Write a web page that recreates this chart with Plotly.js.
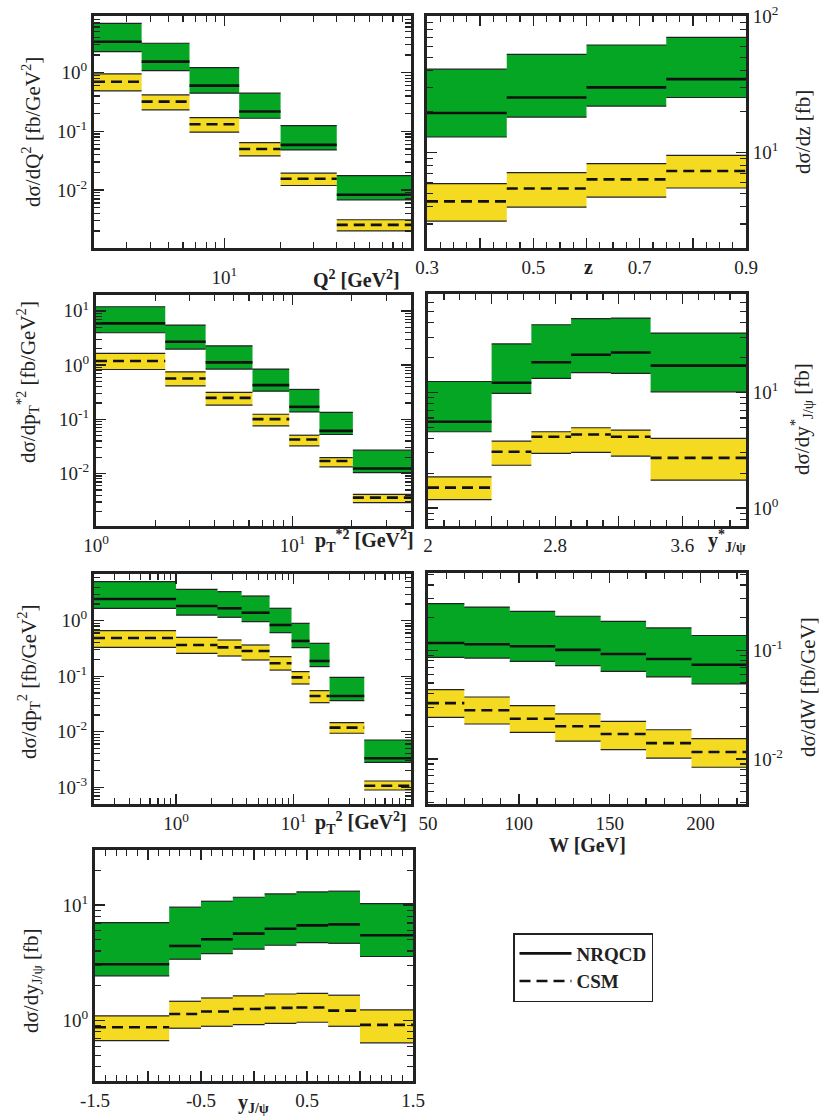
<!DOCTYPE html>
<html><head><meta charset="utf-8">
<script src="https://cdn.plot.ly/plotly-3.0.1.min.js"></script>
<style>html,body{margin:0;padding:0;background:#fff}#chart{width:820px;height:1119px}</style>
</head><body><div id="chart"></div>
<script>
// ---------- Panel 1: dσ/dQ² ----------
const q2Edges = [2, 3.6, 6.5, 12, 20, 40, 100];
const q2NrqcdCentral = [3.37, 1.54, 0.60, 0.217, 0.0587, 0.00826];
const q2NrqcdLow     = [2.28, 1.08, 0.446, 0.167, 0.0482, 0.00678];
const q2NrqcdHigh    = [6.94, 3.17, 1.22, 0.446, 0.125, 0.0176];
const q2CsmCentral   = [0.70, 0.32, 0.132, 0.050, 0.0155, 0.00254];
const q2CsmLow       = [0.49, 0.232, 0.0966, 0.0381, 0.0119, 0.00201];
const q2CsmHigh      = [0.95, 0.417, 0.171, 0.0643, 0.0193, 0.0031];

// ---------- Panel 2: dσ/dz ----------
const zEdges = [0.3, 0.45, 0.6, 0.75, 0.9];
const zNrqcdCentral = [19.5, 25.3, 30.0, 34.5];
const zNrqcdLow     = [13.0, 18.2, 21.9, 25.3];
const zNrqcdHigh    = [40.8, 52.4, 61.3, 69.7];
const zCsmCentral   = [4.39, 5.45, 6.36, 7.33];
const zCsmLow       = [3.15, 3.99, 4.72, 5.5];
const zCsmHigh      = [5.93, 7.13, 8.3, 9.55];

// ---------- Panel 3: dσ/dp*T² ----------
const ptsEdges = [1, 2.25, 3.61, 6.25, 9.61, 13.69, 20.25, 40];
const ptsNrqcdCentral = [5.88, 2.70, 1.12, 0.427, 0.170, 0.0614, 0.0124];
const ptsNrqcdLow     = [3.95, 1.97, 0.844, 0.331, 0.137, 0.0525, 0.0104];
const ptsNrqcdHigh    = [11.9, 5.47, 2.27, 0.844, 0.356, 0.134, 0.027];
const ptsCsmCentral   = [1.19, 0.567, 0.249, 0.101, 0.0425, 0.0171, 0.0036];
const ptsCsmLow       = [0.83, 0.415, 0.183, 0.076, 0.0324, 0.0133, 0.00292];
const ptsCsmHigh      = [1.64, 0.753, 0.313, 0.124, 0.051, 0.0197, 0.00415];

// ---------- Panel 4: dσ/dy*J/ψ ----------
const ysEdges = [2.0, 2.4, 2.65, 2.9, 3.15, 3.4, 4.0];
const ysNrqcdCentral = [5.57, 12.1, 18.2, 21.1, 22.1, 17.0];
const ysNrqcdLow     = [4.56, 9.8, 13.2, 14.8, 14.6, 10.1];
const ysNrqcdHigh    = [12.4, 26.2, 38.4, 43.3, 43.8, 32.5];
const ysCsmCentral   = [1.50, 3.06, 4.13, 4.32, 4.13, 2.71];
const ysCsmLow       = [1.18, 2.34, 2.96, 3.02, 2.81, 1.74];
const ysCsmHigh      = [1.86, 3.78, 4.56, 4.94, 4.71, 3.99];

// ---------- Panel 5: dσ/dpT² ----------
const ptEdges = [0.2, 1, 2.25, 3.61, 6.25, 9.61, 13.69, 20.25, 40, 100];
const ptNrqcdCentral = [2.45, 1.84, 1.67, 1.39, 0.836, 0.431, 0.188, 0.044, 0.00333];
const ptNrqcdLow     = [1.67, 1.26, 1.15, 0.96, 0.608, 0.327, 0.149, 0.0363, 0.00282];
const ptNrqcdHigh    = [5.03, 3.66, 3.33, 2.78, 1.67, 0.895, 0.391, 0.0955, 0.00711];
const ptCsmCentral   = [0.488, 0.365, 0.331, 0.284, 0.171, 0.0955, 0.044, 0.0119, 0.00107];
const ptCsmLow       = [0.331, 0.258, 0.231, 0.196, 0.129, 0.0725, 0.0334, 0.0094, 0.000896];
const ptCsmHigh      = [0.66, 0.501, 0.449, 0.365, 0.225, 0.121, 0.055, 0.0146, 0.0013];

// ---------- Panel 6: dσ/dW ----------
const wEdges = [50, 70, 95, 120, 145, 170, 195, 225];
const wNrqcdCentral = [0.117, 0.114, 0.109, 0.101, 0.0925, 0.0832, 0.0738];
const wNrqcdLow     = [0.0863, 0.085, 0.0792, 0.0723, 0.0641, 0.0569, 0.049];
const wNrqcdHigh    = [0.269, 0.25, 0.228, 0.206, 0.185, 0.161, 0.137];
const wCsmCentral   = [0.0327, 0.0281, 0.0235, 0.020, 0.017, 0.014, 0.0116];
const wCsmLow       = [0.0242, 0.021, 0.0176, 0.0146, 0.0122, 0.0102, 0.0084];
const wCsmHigh      = [0.0435, 0.0372, 0.031, 0.026, 0.0222, 0.0186, 0.0154];

// ---------- Panel 7: dσ/dyJ/ψ ----------
const yEdges = [-1.5, -0.8, -0.5, -0.2, 0.1, 0.4, 0.7, 1.0, 1.5];
const yNrqcdCentral = [3.08, 4.43, 5.06, 5.66, 6.25, 6.68, 6.81, 5.48];
const yNrqcdLow     = [2.44, 3.4, 3.8, 4.15, 4.49, 4.73, 4.67, 3.59];
const yNrqcdHigh    = [7.05, 9.6, 10.8, 11.7, 12.5, 13.0, 13.2, 10.3];
const yCsmCentral   = [0.876, 1.14, 1.2, 1.26, 1.29, 1.30, 1.22, 0.918];
const yCsmLow       = [0.672, 0.859, 0.893, 0.924, 0.948, 0.968, 0.893, 0.642];
const yCsmHigh      = [1.10, 1.47, 1.57, 1.64, 1.70, 1.72, 1.66, 1.24];

// ---------- tick labels ----------
const q2XTickVals = [10];            const q2XTickText = ['10<sup>1</sup>'];
const q2YTickVals = [0.01, 0.1, 1];  const q2YTickText = ['10<sup>-2</sup>', '10<sup>-1</sup>', '10<sup>0</sup>'];
const zXTickVals = [0.3, 0.4, 0.5, 0.6, 0.7, 0.8, 0.9]; const zXTickText = ['0.3', '', '0.5', '', '0.7', '', '0.9'];
const zYTickVals = [10, 100];        const zYTickText = ['10<sup>1</sup>', '10<sup>2</sup>'];
const ptsXTickVals = [1, 10];        const ptsXTickText = ['10<sup>0</sup>', '10<sup>1</sup>'];
const ptsYTickVals = [0.01, 0.1, 1, 10]; const ptsYTickText = ['10<sup>-2</sup>', '10<sup>-1</sup>', '10<sup>0</sup>', '10<sup>1</sup>'];
const ysXTickVals = [2.0, 2.4, 2.8, 3.2, 3.6, 4.0]; const ysXTickText = ['2', '', '2.8', '', '3.6', ''];
const ysYTickVals = [1, 10];         const ysYTickText = ['10<sup>0</sup>', '10<sup>1</sup>'];
const ptXTickVals = [1, 10];         const ptXTickText = ['10<sup>0</sup>', '10<sup>1</sup>'];
const ptYTickVals = [0.001, 0.01, 0.1, 1]; const ptYTickText = ['10<sup>-3</sup>', '10<sup>-2</sup>', '10<sup>-1</sup>', '10<sup>0</sup>'];
const wXTickVals = [50, 100, 150, 200]; const wXTickText = ['50', '100', '150', '200'];
const wYTickVals = [0.01, 0.1];      const wYTickText = ['10<sup>-2</sup>', '10<sup>-1</sup>'];
const yXTickVals = [-1.5, -1.0, -0.5, 0, 0.5, 1.0, 1.5]; const yXTickText = ['-1.5', '', '-0.5', '', '0.5', '', '1.5'];
const yYTickVals = [1, 10];          const yYTickText = ['10<sup>0</sup>', '10<sup>1</sup>'];

const legendNames = ['NRQCD', 'CSM'];

// ---------- styling ----------
const FONT = '"Liberation Serif", "Times New Roman", serif';
const INK = '#222';
const GREEN = '#05a623';
const YELLOW = '#f5da22';
const WPX = 820, HPX = 1119;

function bandTraces(ax, edges, lo, hi, color) {
  const px = [], py = [], ex = [], ey = [];
  for (let i = 0; i < lo.length; i++) {
    const a = edges[i], b = edges[i + 1];
    px.push(a, b, b, a, a, null); py.push(lo[i], lo[i], hi[i], hi[i], lo[i], null);
    ex.push(a, b, null, a, b, null); ey.push(lo[i], lo[i], null, hi[i], hi[i], null);
  }
  return [
    {type: 'scatter', mode: 'lines', x: px, y: py, xaxis: ax.x, yaxis: ax.y, fill: 'toself',
     fillcolor: color, line: {width: 0, color: color}, showlegend: false, hoverinfo: 'skip'},
    {type: 'scatter', mode: 'lines', x: ex, y: ey, xaxis: ax.x, yaxis: ax.y,
     line: {width: 1.2, color: INK}, showlegend: false, hoverinfo: 'skip'}
  ];
}
function centralTrace(ax, edges, c, dash, name, show) {
  const x = [], y = [];
  for (let i = 0; i < c.length; i++) { x.push(edges[i], edges[i + 1], null); y.push(c[i], c[i], null); }
  return {type: 'scatter', mode: 'lines', x: x, y: y, xaxis: ax.x, yaxis: ax.y,
          line: {width: 2.6, color: '#111', dash: dash}, name: name, showlegend: show, hoverinfo: 'skip'};
}

const panels = [
  {e: q2Edges, nc: q2NrqcdCentral, nl: q2NrqcdLow, nh: q2NrqcdHigh, cc: q2CsmCentral, cl: q2CsmLow, ch: q2CsmHigh},
  {e: zEdges, nc: zNrqcdCentral, nl: zNrqcdLow, nh: zNrqcdHigh, cc: zCsmCentral, cl: zCsmLow, ch: zCsmHigh},
  {e: ptsEdges, nc: ptsNrqcdCentral, nl: ptsNrqcdLow, nh: ptsNrqcdHigh, cc: ptsCsmCentral, cl: ptsCsmLow, ch: ptsCsmHigh},
  {e: ysEdges, nc: ysNrqcdCentral, nl: ysNrqcdLow, nh: ysNrqcdHigh, cc: ysCsmCentral, cl: ysCsmLow, ch: ysCsmHigh},
  {e: ptEdges, nc: ptNrqcdCentral, nl: ptNrqcdLow, nh: ptNrqcdHigh, cc: ptCsmCentral, cl: ptCsmLow, ch: ptCsmHigh},
  {e: wEdges, nc: wNrqcdCentral, nl: wNrqcdLow, nh: wNrqcdHigh, cc: wCsmCentral, cl: wCsmLow, ch: wCsmHigh},
  {e: yEdges, nc: yNrqcdCentral, nl: yNrqcdLow, nh: yNrqcdHigh, cc: yCsmCentral, cl: yCsmLow, ch: yCsmHigh}
];

const traces = [];
panels.forEach((p, i) => {
  const n = i + 1;
  const ax = {x: n === 1 ? 'x' : 'x' + n, y: n === 1 ? 'y' : 'y' + n};
  traces.push(...bandTraces(ax, p.e, p.cl, p.ch, YELLOW));
  traces.push(...bandTraces(ax, p.e, p.nl, p.nh, GREEN));
  traces.push(centralTrace(ax, p.e, p.cc, '11px,6px', legendNames[1], n === 1));
  traces.push(centralTrace(ax, p.e, p.nc, 'solid', legendNames[0], n === 1));
});

function logMinor(lo, hi) {
  const out = [];
  for (let k = Math.floor(Math.log10(lo)) - 1; k <= Math.ceil(Math.log10(hi)); k++) {
    for (let m = 2; m <= 9; m++) { const v = m * Math.pow(10, k); if (v >= lo * 0.999 && v <= hi * 1.001) out.push(v); }
  }
  return out;
}

function axisBase(extra) {
  return Object.assign({
    showline: true, linewidth: 3, linecolor: INK, mirror: 'allticks',
    ticks: 'inside', ticklen: 10, tickwidth: 1.4, tickcolor: INK,
    showgrid: false, zeroline: false, tickmode: 'array',
    tickfont: {family: FONT, size: 19, color: INK}, fixedrange: true
  }, extra);
}
function xdom(a, b) { return [a / WPX, b / WPX]; }
function ydom(top, bot) { return [1 - bot / HPX, 1 - top / HPX]; }
function minorArr(vals) { return {ticks: 'inside', ticklen: 6, tickwidth: 1.2, tickcolor: INK, tickmode: 'array', tickvals: vals, showgrid: false}; }
function minorLin(d, t0) { return {ticks: 'inside', ticklen: 6, tickwidth: 1.2, tickcolor: INK, tickmode: 'linear', dtick: d, tick0: t0, showgrid: false}; }

const layout = {
  width: WPX, height: HPX, margin: {l: 0, r: 0, t: 0, b: 0},
  paper_bgcolor: '#fff', plot_bgcolor: '#fff', font: {family: FONT, color: INK},
  showlegend: true,
  legend: {x: 513 / WPX, y: 1 - 933 / HPX, xanchor: 'left', yanchor: 'top', bgcolor: '#fff',
           bordercolor: INK, borderwidth: 1.5, font: {family: FONT, size: 19, color: INK, weight: 'bold'},
           itemwidth: 52, traceorder: 'reversed', tracegroupgap: 0},
  // Panel 1
  xaxis: axisBase({domain: xdom(94, 411), anchor: 'y', type: 'log', range: [Math.log10(2), 2],
    tickvals: q2XTickVals, ticktext: q2XTickText, minor: minorArr(logMinor(2, 100)), ticklabelstandoff: 10}),
  yaxis: axisBase({domain: ydom(16, 248), anchor: 'x', type: 'log', range: [-2.99, 0.966],
    tickvals: q2YTickVals, ticktext: q2YTickText, minor: minorArr(logMinor(0.001, 10))}),
  // Panel 2
  xaxis2: axisBase({domain: xdom(427, 746), anchor: 'y2', range: [0.3, 0.9],
    tickvals: zXTickVals, ticktext: zXTickText, minor: minorLin(0.025, 0.3)}),
  yaxis2: axisBase({domain: ydom(16, 248), anchor: 'x2', type: 'log', range: [Math.log10(2), 2], side: 'right',
    tickvals: zYTickVals, ticktext: zYTickText, minor: minorArr(logMinor(2, 100))}),
  // Panel 3
  xaxis3: axisBase({domain: xdom(96, 411), anchor: 'y3', type: 'log', range: [0, Math.log10(40)],
    tickvals: ptsXTickVals, ticktext: ptsXTickText, minor: minorArr(logMinor(1, 40))}),
  yaxis3: axisBase({domain: ydom(295, 526), anchor: 'x3', type: 'log', range: [-2.966, 1.292],
    tickvals: ptsYTickVals, ticktext: ptsYTickText, minor: minorArr(logMinor(0.001, 20))}),
  // Panel 4
  xaxis4: axisBase({domain: xdom(428, 746), anchor: 'y4', range: [2, 4],
    tickvals: ysXTickVals, ticktext: ysXTickText, minor: minorLin(0.1, 2)}),
  yaxis4: axisBase({domain: ydom(294, 526), anchor: 'x4', type: 'log', range: [-0.156, 1.85], side: 'right',
    tickvals: ysYTickVals, ticktext: ysYTickText, minor: minorArr(logMinor(0.7, 71))}),
  // Panel 5
  xaxis5: axisBase({domain: xdom(94, 411), anchor: 'y5', type: 'log', range: [Math.log10(0.2), 2],
    tickvals: ptXTickVals, ticktext: ptXTickText, minor: minorArr(logMinor(0.2, 100))}),
  yaxis5: axisBase({domain: ydom(574, 804), anchor: 'x5', type: 'log', range: [-3.3, 0.84],
    tickvals: ptYTickVals, ticktext: ptYTickText, minor: minorArr(logMinor(0.0005, 7))}),
  // Panel 6
  xaxis6: axisBase({domain: xdom(428, 746), anchor: 'y6', range: [50, 225],
    tickvals: wXTickVals, ticktext: wXTickText, minor: minorLin(10, 50)}),
  yaxis6: axisBase({domain: ydom(573, 804), anchor: 'x6', type: 'log', range: [-2.414, -0.288], side: 'right',
    tickvals: wYTickVals, ticktext: wYTickText, minor: minorArr(logMinor(0.0039, 0.51))}),
  // Panel 7
  xaxis7: axisBase({domain: xdom(95, 413), anchor: 'y7', range: [-1.5, 1.5],
    tickvals: yXTickVals, ticktext: yXTickText, minor: minorLin(0.1, -1.5)}),
  yaxis7: axisBase({domain: ydom(850, 1081), anchor: 'x7', type: 'log', range: [Math.log10(0.3), Math.log10(30)],
    tickvals: yYTickVals, ticktext: yYTickText, minor: minorArr(logMinor(0.3, 30))}),
  annotations: []
};

// axis titles as positioned text
const axisTitles = [
  ['dσ/dQ<sup>2</sup> [fb/GeV<sup>2</sup>]', 32, 132, -90, false],
  ['<b>Q<sup>2</sup> [GeV<sup>2</sup>]</b>', 356, 279, 0, true],
  ['dσ/dz [fb]', 803, 132, -90, false],
  ['<b>z</b>', 588, 267, 0, true],
  ['dσ/dp<sub>T</sub><sup>*2</sup> [fb/GeV<sup>2</sup>]', 28, 382, -90, false],
  ['<b>p<sub>T</sub><sup>*2</sup> [GeV<sup>2</sup>]</b>', 364, 541, 0, true],
  ['dσ/dy<sup>*</sup><sub>J/ψ</sub> [fb]', 801, 419, -90, false],
  ['<b>y<sup>*</sup><sub>J/ψ</sub></b>', 727, 541, 0, true],
  ['dσ/dp<sub>T</sub><sup>2</sup> [fb/GeV<sup>2</sup>]', 28, 682, -90, false],
  ['<b>p<sub>T</sub><sup>2</sup> [GeV<sup>2</sup>]</b>', 361, 823, 0, true],
  ['dσ/dW [fb/GeV]', 808, 687, -90, false],
  ['<b>W [GeV]</b>', 587, 845, 0, true],
  ['dσ/dy<sub>J/ψ</sub> [fb]', 32, 981, -90, false],
  ['<b>y<sub>J/ψ</sub></b>', 253, 1103, 0, true]
];
axisTitles.forEach(t => {
  layout.annotations.push({text: t[0], x: t[1] / WPX, y: 1 - t[2] / HPX, xref: 'paper', yref: 'paper',
    xanchor: 'center', yanchor: 'middle', textangle: t[3], showarrow: false,
    font: {family: FONT, size: t[4] ? 20 : 21, color: INK}});
});

Plotly.newPlot('chart', traces, layout, {staticPlot: true, displayModeBar: false});
</script>
</body></html>
